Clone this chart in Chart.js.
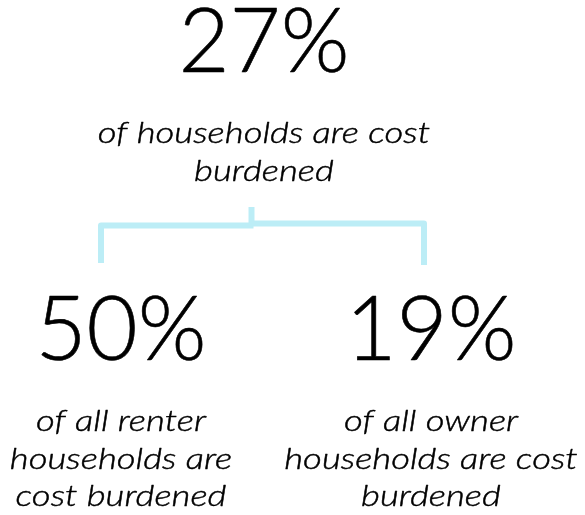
<!DOCTYPE html>
<html><head><meta charset="utf-8">
<script src="https://cdn.jsdelivr.net/npm/chart.js@4.4.1/dist/chart.umd.min.js"></script>
<style>html,body{margin:0;padding:0;background:#fff}#wrap{width:585px;height:515px;position:relative}</style>
</head><body><div id="wrap"><canvas id="c"></canvas></div>
<script>
// ---- data ----
const groups = ['All households', 'Renter households', 'Owner households'];
const shares = [27, 50, 19];
const captions = [
  ['of households are cost', 'burdened'],
  ['of all renter', 'households are', 'cost burdened'],
  ['of all owner', 'households are cost', 'burdened']
];

// ---- layout (positions in the 585x515 design space) ----
const layout = {
  nodes: [ {cx: 264, numBase: 72, capBase: 143}, {cx: 121, numBase: 360, capBase: 431}, {cx: 431, numBase: 360, capBase: 431} ],
  lineGap: 37.5,
  bracket: {stemX: 251.5, stemTop: 207, leftX: 101, rightX: 424, leftY: 225.5, rightY: 223.5, leftBottom: 263, rightBottom: 265}
};

const infographic = {
  id: 'infographic',
  afterDraw(chart) {
    const ctx = chart.ctx, sx = chart.scales.x, sy = chart.scales.y;
    const X = v => sx.getPixelForValue(v), Y = v => sy.getPixelForValue(v);
    ctx.save();
    // bracket
    const b = layout.bracket;
    ctx.strokeStyle = '#bcedf6';
    ctx.lineWidth = 6;
    ctx.lineJoin = 'round';
    ctx.lineCap = 'butt';
    ctx.beginPath();
    ctx.moveTo(X(b.leftX), Y(b.leftBottom));
    ctx.lineTo(X(b.leftX), Y(b.leftY));
    ctx.lineTo(X(b.stemX + 2), Y(b.leftY));
    ctx.stroke();
    ctx.beginPath();
    ctx.moveTo(X(b.stemX - 1), Y(b.rightY));
    ctx.lineTo(X(b.rightX), Y(b.rightY));
    ctx.lineTo(X(b.rightX), Y(b.rightBottom));
    ctx.stroke();
    ctx.beginPath();
    ctx.moveTo(X(b.stemX), Y(b.stemTop));
    ctx.lineTo(X(b.stemX), Y(b.rightY));
    ctx.stroke();

    // texts
    ctx.fillStyle = '#000';
    ctx.strokeStyle = '#000';
    ctx.textAlign = 'center';
    ctx.textBaseline = 'alphabetic';
    const drawStretched = (txt, cx, base, stretch, thicken) => {
      ctx.save();
      ctx.translate(cx, base);
      ctx.scale(stretch, 1);
      ctx.fillText(txt, 0, 0);
      if (thicken) { ctx.lineWidth = thicken; ctx.strokeText(txt, 0, 0); }
      ctx.restore();
    };
    groups.forEach((g, i) => {
      const n = layout.nodes[i];
      ctx.font = '300 90px Lato';
      drawStretched(shares[i] + '%', X(n.cx), Y(n.numBase), 0.98, 0.6);
      ctx.font = 'italic 300 30px Lato';
      captions[i].forEach((line, j) => {
        drawStretched(line, X(n.cx), Y(n.capBase + j * layout.lineGap), 1.22, 0.45);
      });
    });
    ctx.restore();
  }
};

new Chart(document.getElementById('c'), {
  type: 'scatter',
  data: { datasets: [{ label: 'anchors', data: [], showLine: false }] },
  options: {
    responsive: true,
    maintainAspectRatio: false,
    animation: false,
    layout: { padding: 0 },
    plugins: { legend: { display: false }, tooltip: { enabled: false } },
    scales: {
      x: { type: 'linear', min: 0, max: 585, display: false },
      y: { type: 'linear', min: 0, max: 515, reverse: true, display: false }
    }
  },
  plugins: [infographic]
});
</script>
</body></html>
